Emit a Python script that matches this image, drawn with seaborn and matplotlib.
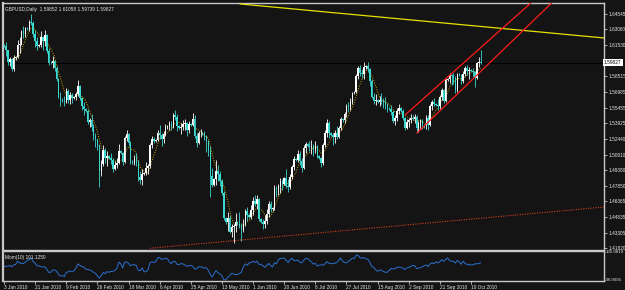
import numpy as np
import pandas as pd
import matplotlib
matplotlib.use("Agg")
import matplotlib.pyplot as plt
import seaborn as sns

# ---------------- data (GBPUSD daily, 3 Jan 2010 .. 15 Oct 2010, Sunday bars included)
opens = [
 1.6150,1.6140,1.6105,1.5990,1.6020,1.5925, 1.6030,1.6040,1.6150,1.6165,1.6290,1.6265,
 1.6320,1.6310,1.6380,1.6370,1.6260,1.6190, 1.6140,1.6150,1.6230,1.6190,1.6250,1.6100,
 1.5980,1.5975,1.6000,1.5935,1.5820,1.5650, 1.5620,1.5610,1.5600,1.5710,1.5620,1.5670,
 1.5640,1.5650,1.5680,1.5760,1.5640,1.5560, 1.5530,1.5510,1.5410,1.5430,1.5360,1.5270,
 1.5240,1.5170,1.4930,1.5000,1.5140,1.5060, 1.5080,1.5060,1.5040,1.4955,1.4990,1.5010,
 1.5130,1.5110,1.5020,1.5250,1.5290,1.5200, 1.5030,1.5010,1.5050,1.5010,1.4870,1.4840,
 1.4900,1.4910,1.4960,1.4980,1.5180,1.5240, 1.5220,1.5230,1.5300,1.5280,1.5240,1.5290,
 1.5360,1.5370,1.5390,1.5360,1.5470,1.5460, 1.5370,1.5350,1.5360,1.5390,1.5400,1.5330,
 1.5390,1.5380,1.5440,1.5270,1.5200,1.5300, 1.5300,1.5290,1.5270,1.5220,1.5130,1.4880,
 1.4800,1.4850,1.4930,1.4900,1.4830,1.4720, 1.4480,1.4440,1.4480,1.4340,1.4390,1.4400,
 1.4440,1.4420,1.4400,1.4360,1.4420,1.4540, 1.4500,1.4490,1.4550,1.4640,1.4610,1.4660,
 1.4470,1.4440,1.4420,1.4450,1.4510,1.4610, 1.4560,1.4570,1.4770,1.4760,1.4790,1.4830,
 1.4810,1.4860,1.4790,1.4780,1.4870,1.4970, 1.5050,1.5040,1.5100,1.5030,1.4960,1.5150,
 1.5190,1.5170,1.5160,1.5170,1.5140,1.5170, 1.5080,1.5060,1.5010,1.5180,1.5300,1.5400,
 1.5300,1.5280,1.5260,1.5300,1.5260,1.5350, 1.5440,1.5430,1.5480,1.5560,1.5550,1.5600,
 1.5690,1.5700,1.5850,1.5930,1.5880,1.5870, 1.5940,1.5950,1.5920,1.5800,1.5650,1.5610,
 1.5620,1.5600,1.5620,1.5610,1.5590,1.5570, 1.5540,1.5530,1.5500,1.5420,1.5450,1.5510,
 1.5540,1.5510,1.5450,1.5350,1.5410,1.5430, 1.5450,1.5440,1.5460,1.5350,1.5400,1.5420,
 1.5380,1.5360,1.5450,1.5380,1.5560,1.5600, 1.5580,1.5570,1.5560,1.5650,1.5720,1.5610,
 1.5810,1.5820,1.5860,1.5850,1.5830,1.5720, 1.5870,1.5860,1.5805,1.5870,1.5930,1.5900,
 1.5910,1.5900,1.5890,1.5830,1.5980,1.59852]
highs = [
 1.6165,1.6185,1.6110,1.6040,1.6030,1.6060, 1.6050,1.6200,1.6230,1.6300,1.6340,1.6330,
 1.6330,1.6400,1.6457,1.6390,1.6300,1.6230, 1.6160,1.6290,1.6240,1.6300,1.6260,1.6120,
 1.5995,1.6045,1.6010,1.5950,1.5835,1.5700, 1.5640,1.5660,1.5740,1.5730,1.5700,1.5690,
 1.5660,1.5700,1.5810,1.5770,1.5650,1.5600, 1.5540,1.5530,1.5450,1.5480,1.5390,1.5300,
 1.5245,1.5190,1.5040,1.5180,1.5150,1.5130, 1.5090,1.5110,1.5060,1.5030,1.5060,1.5190,
 1.5140,1.5120,1.5270,1.5330,1.5300,1.5220, 1.5040,1.5090,1.5110,1.5040,1.4930,1.4950,
 1.4920,1.5020,1.5000,1.5200,1.5270,1.5260, 1.5240,1.5330,1.5380,1.5300,1.5320,1.5390,
 1.5380,1.5420,1.5420,1.5490,1.5523,1.5480, 1.5380,1.5400,1.5430,1.5440,1.5410,1.5420,
 1.5400,1.5490,1.5470,1.5300,1.5320,1.5340, 1.5310,1.5320,1.5280,1.5230,1.5170,1.4960,
 1.4860,1.5040,1.4990,1.4930,1.4850,1.4740, 1.4490,1.4530,1.4500,1.4420,1.4420,1.4520,
 1.4450,1.4530,1.4430,1.4470,1.4560,1.4580, 1.4520,1.4600,1.4680,1.4700,1.4700,1.4670,
 1.4480,1.4470,1.4500,1.4560,1.4640,1.4640, 1.4580,1.4800,1.4790,1.4810,1.4860,1.4850,
 1.4870,1.4950,1.4850,1.4900,1.4990,1.5080, 1.5060,1.5140,1.5130,1.5060,1.5180,1.5210,
 1.5200,1.5220,1.5230,1.5190,1.5220,1.5180, 1.5090,1.5070,1.5200,1.5330,1.5440,1.5420,
 1.5310,1.5300,1.5330,1.5370,1.5370,1.5460, 1.5450,1.5500,1.5580,1.5600,1.5640,1.5700,
 1.5710,1.5870,1.5950,1.5960,1.5920,1.5990, 1.5960,1.5985,1.5930,1.5820,1.5690,1.5680,
 1.5630,1.5660,1.5690,1.5640,1.5650,1.5590, 1.5550,1.5570,1.5520,1.5470,1.5540,1.5580,
 1.5550,1.5530,1.5460,1.5440,1.5450,1.5480, 1.5470,1.5480,1.5470,1.5420,1.5440,1.5440,
 1.5390,1.5470,1.5470,1.5580,1.5620,1.5640, 1.5590,1.5630,1.5670,1.5740,1.5730,1.5830,
 1.5830,1.5880,1.5870,1.5880,1.5850,1.5880, 1.5880,1.5870,1.5900,1.5950,1.5960,1.5940,
 1.5920,1.5930,1.5900,1.5990,1.6040,1.61058]
lows = [
 1.6130,1.6050,1.5960,1.5950,1.5900,1.5905, 1.6010,1.6030,1.6080,1.6150,1.6225,1.6230,
 1.6300,1.6290,1.6350,1.6230,1.6135,1.6110, 1.6130,1.6130,1.6110,1.6140,1.6080,1.5960,
 1.5965,1.5930,1.5900,1.5800,1.5640,1.5560, 1.5600,1.5560,1.5590,1.5590,1.5580,1.5590,
 1.5630,1.5620,1.5660,1.5620,1.5520,1.5470, 1.5500,1.5390,1.5360,1.5320,1.5230,1.5160,
 1.5140,1.4781,1.4880,1.4980,1.5010,1.4980, 1.5050,1.5000,1.4920,1.4940,1.4960,1.5000,
 1.5100,1.4990,1.5010,1.5220,1.5170,1.5000, 1.5000,1.4990,1.4980,1.4830,1.4810,1.4800,
 1.4890,1.4890,1.4900,1.4960,1.5150,1.5200, 1.5210,1.5220,1.5240,1.5170,1.5200,1.5270,
 1.5340,1.5330,1.5330,1.5350,1.5430,1.5320, 1.5340,1.5290,1.5330,1.5330,1.5270,1.5300,
 1.5370,1.5370,1.5250,1.5160,1.5190,1.5260, 1.5280,1.5230,1.5120,1.5080,1.4680,1.4780,
 1.4790,1.4800,1.4830,1.4790,1.4700,1.4460, 1.4420,1.4350,1.4330,1.4290,1.4230,1.4340,
 1.4410,1.4380,1.4250,1.4340,1.4400,1.4450, 1.4480,1.4470,1.4500,1.4590,1.4560,1.4450,
 1.4430,1.4370,1.4380,1.4420,1.4490,1.4530, 1.4540,1.4550,1.4680,1.4700,1.4720,1.4750,
 1.4800,1.4770,1.4730,1.4760,1.4850,1.4940, 1.5030,1.5020,1.4990,1.4920,1.4950,1.5110,
 1.5160,1.5130,1.5100,1.5080,1.5110,1.5060, 1.5050,1.4970,1.4990,1.5160,1.5260,1.5250,
 1.5270,1.5180,1.5200,1.5240,1.5250,1.5330, 1.5410,1.5400,1.5460,1.5500,1.5520,1.5580,
 1.5680,1.5690,1.5820,1.5850,1.5830,1.5820, 1.5920,1.5890,1.5760,1.5640,1.5580,1.5570,
 1.5590,1.5560,1.5580,1.5540,1.5530,1.5500, 1.5520,1.5470,1.5400,1.5380,1.5420,1.5480,
 1.5500,1.5430,1.5330,1.5340,1.5360,1.5400, 1.5430,1.5400,1.5300,1.5310,1.5340,1.5340,
 1.5350,1.5340,1.5330,1.5370,1.5520,1.5560, 1.5560,1.5520,1.5530,1.5620,1.5590,1.5600,
 1.5800,1.5790,1.5770,1.5780,1.5690,1.5700, 1.5850,1.5780,1.5790,1.5850,1.5860,1.5820,
 1.5890,1.5840,1.5750,1.5820,1.5940,1.59739]
closes = [
 1.6140,1.6105,1.5990,1.6020,1.5925,1.6030, 1.6040,1.6150,1.6165,1.6290,1.6265,1.6320,
 1.6310,1.6380,1.6370,1.6260,1.6190,1.6140, 1.6150,1.6230,1.6190,1.6250,1.6100,1.5980,
 1.5975,1.6000,1.5935,1.5820,1.5650,1.5620, 1.5610,1.5600,1.5710,1.5620,1.5670,1.5640,
 1.5650,1.5680,1.5760,1.5640,1.5560,1.5530, 1.5510,1.5410,1.5430,1.5360,1.5270,1.5240,
 1.5170,1.4930,1.5000,1.5140,1.5060,1.5080, 1.5060,1.5040,1.4955,1.4990,1.5010,1.5130,
 1.5110,1.5020,1.5250,1.5290,1.5200,1.5030, 1.5010,1.5050,1.5010,1.4870,1.4840,1.4900,
 1.4910,1.4960,1.4980,1.5180,1.5240,1.5220, 1.5230,1.5300,1.5280,1.5240,1.5290,1.5360,
 1.5370,1.5390,1.5360,1.5470,1.5460,1.5370, 1.5350,1.5360,1.5390,1.5400,1.5330,1.5390,
 1.5380,1.5440,1.5270,1.5200,1.5300,1.5300, 1.5290,1.5270,1.5220,1.5130,1.4880,1.4800,
 1.4850,1.4930,1.4900,1.4830,1.4720,1.4480, 1.4440,1.4480,1.4340,1.4390,1.4400,1.4440,
 1.4420,1.4400,1.4360,1.4420,1.4540,1.4500, 1.4490,1.4550,1.4640,1.4610,1.4660,1.4470,
 1.4440,1.4420,1.4450,1.4510,1.4610,1.4560, 1.4570,1.4770,1.4760,1.4790,1.4830,1.4810,
 1.4860,1.4790,1.4780,1.4870,1.4970,1.5050, 1.5040,1.5100,1.5030,1.4960,1.5150,1.5190,
 1.5170,1.5160,1.5170,1.5140,1.5170,1.5080, 1.5060,1.5010,1.5180,1.5300,1.5400,1.5300,
 1.5280,1.5260,1.5300,1.5260,1.5350,1.5440, 1.5430,1.5480,1.5560,1.5550,1.5600,1.5690,
 1.5700,1.5850,1.5930,1.5880,1.5870,1.5940, 1.5950,1.5920,1.5800,1.5650,1.5610,1.5620,
 1.5600,1.5620,1.5610,1.5590,1.5570,1.5540, 1.5530,1.5500,1.5420,1.5450,1.5510,1.5540,
 1.5510,1.5450,1.5350,1.5410,1.5430,1.5450, 1.5440,1.5460,1.5350,1.5400,1.5420,1.5380,
 1.5360,1.5450,1.5380,1.5560,1.5600,1.5580, 1.5570,1.5560,1.5650,1.5720,1.5610,1.5810,
 1.5820,1.5860,1.5850,1.5830,1.5720,1.5870, 1.5860,1.5805,1.5870,1.5930,1.5900,1.5910,
 1.5900,1.5890,1.5830,1.5980,1.5985,1.59827]
pre_closes = [1.6200,1.6130,1.6010,1.6010,1.5990,1.5980,1.5970,1.5880,1.6000,1.6150]

date_labels = ["3 Jan 2010", "21 Jan 2010", "9 Feb 2010", "26 Feb 2010", "18 Mar 2010",
               "6 Apr 2010", "25 Apr 2010", "13 May 2010", "1 Jun 2010", "20 Jun 2010",
               "8 Jul 2010", "27 Jul 2010", "15 Aug 2010", "2 Sep 2010", "21 Sep 2010",
               "10 Oct 2010"]
date_label_bars = [0, 16, 32, 48, 64, 80, 96, 112, 128, 144, 160, 176, 192, 208, 224, 240]

price_ticks = [1.64545, 1.63060, 1.61530, 1.58515, 1.56985, 1.55455, 1.53925, 1.52440,
               1.50910, 1.49380, 1.47850, 1.46365, 1.44835, 1.43305, 1.41820]
mom_ticks = [105.0819, 94.9095]

title_text = "GBPUSD,Daily  1.59852 1.61058 1.59739 1.59827"
mom_text = "Mom(10) 101.1250"

# trend lines: (bar index, price) anchors
yellow_line = [(121.3, 1.6552), (308.3, 1.6222)]
red_dotted_line = [(75.0, 1.4182), (308.3, 1.4582)]
channel_upper = [(206.1, 1.5475), (243.6, 1.61052)]
channel_lower = [(212.2, 1.5300), (256.4, 1.61052)]

# ---------------- styling
BG = "#141414"
FRAME = "#c8c8c8"
TXT = "#e6e6e6"
BULL = "#ffffff"
BEAR = "#3ad8cf"

sns.set_style("dark", {"axes.facecolor": BG, "figure.facecolor": BG})
plt.rcParams["font.family"] = ["Liberation Sans", "DejaVu Sans"]
FS = 3.4

df = pd.DataFrame({"o": opens, "h": highs, "l": lows, "c": closes})
df["i"] = np.arange(len(df))
allc = pd.Series(pre_closes + closes)
df["mom"] = (allc / allc.shift(10) * 100).iloc[len(pre_closes):].values
df["ma"] = df["c"].rolling(6).mean()

fig = plt.figure(figsize=(6.25, 2.9), dpi=100, facecolor=BG)
W, H = 625.0, 290.0
ax = fig.add_axes([3 / W, 1 - 249.5 / H, 601 / W, 246.5 / H])
ax2 = fig.add_axes([3 / W, 1 - 281 / H, 601 / W, 30 / H])

px_per_bar = 1.946
xmin = -0.5
xmax = xmin + 601 / px_per_bar
for a in (ax, ax2):
    a.set_facecolor(BG)
    a.set_xlim(xmin, xmax)
    for s in a.spines.values():
        s.set_color(FRAME)
        s.set_linewidth(1.0)
        s.set_visible(True)
    a.grid(False)
ax.spines["left"].set_linewidth(1.6)
ax2.spines["left"].set_linewidth(1.6)

ax.set_ylim(1.41701, 1.65612)

# moving average (dotted)
sns.lineplot(data=df, x="i", y="ma", ax=ax, color="#c9a400", linewidth=0.7,
             linestyle=(0, (1, 1.5)), zorder=1, legend=False)

# candles
up = df["c"] >= df["o"]
cols = np.where(up, BULL, BEAR)
ax.vlines(df["i"], df["l"], df["h"], colors=cols, linewidth=0.6, zorder=2)
body_bot = np.minimum(df["o"], df["c"])
body_h = np.maximum(np.abs(df["c"] - df["o"]), 0.00025)
ax.bar(df["i"], body_h, bottom=body_bot, width=0.75, color=cols, linewidth=0, zorder=3)

# current bid line
ax.axhline(closes[-1], color="#000000", linewidth=0.8, zorder=1)

def ray(a, pts, **kw):
    (x0, y0), (x1, y1) = pts
    slope = (y1 - y0) / (x1 - x0)
    xs = np.array([x0, xmax + 5])
    a.plot(xs, y0 + slope * (xs - x0), **kw)

ray(ax, yellow_line, color="#e8e000", linewidth=0.9, zorder=4)
ray(ax, red_dotted_line, color="#d0401a", linewidth=0.8, linestyle=(0, (1, 1.2)), zorder=4)
ray(ax, channel_upper, color="#ff1a1a", linewidth=0.9, zorder=4)
ray(ax, channel_lower, color="#ff1a1a", linewidth=0.9, zorder=4)

# right price axis
ax.yaxis.tick_right()
ax.set_yticks(price_ticks)
ax.set_yticklabels([f"{v:.5f}" for v in price_ticks])
ax.tick_params(axis="y", which="both", right=True, left=False, direction="out",
               length=1.8, width=0.6, color=FRAME, labelcolor=TXT, labelsize=FS, pad=1.2)
ax.set_xticks([])
ax.set_xlabel("")
ax.set_ylabel("")
ax.text(1.0, closes[-1], f"{closes[-1]:.5f}", transform=ax.get_yaxis_transform(),
        ha="left", va="center", fontsize=FS, color="#000000",
        bbox=dict(boxstyle="square,pad=0.25", fc="#ffffff", ec="#ffffff", lw=0),
        zorder=10, clip_on=False)
ax.text(0.004, 0.982, title_text, transform=ax.transAxes, ha="left", va="top",
        fontsize=FS, color=TXT)

# momentum
sns.lineplot(data=df, x="i", y="mom", ax=ax2, color="#2a6fd0", linewidth=0.7, legend=False)
ax2.set_ylim(94.4, 105.4)
ax2.yaxis.tick_right()
ax2.set_yticks(mom_ticks)
ax2.set_yticklabels([f"{v:.4f}" for v in mom_ticks])
ax2.tick_params(axis="y", right=True, left=False, direction="out", length=0.8, width=0.6,
                color=FRAME, labelcolor=TXT, labelsize=3.2, pad=0.4)
ax2.set_xticks(date_label_bars)
ax2.set_xticklabels(date_labels, ha="left")
ax2.tick_params(axis="x", bottom=True, direction="out", length=1.8, width=0.6,
                color=FRAME, labelcolor=TXT, labelsize=FS, pad=1.0)
ax2.set_xlabel("")
ax2.set_ylabel("")
ax2.text(0.003, 0.88, mom_text, transform=ax2.transAxes, ha="left", va="top",
         fontsize=FS, color=TXT)

fig.savefig("out.png", dpi=100, facecolor=BG)
